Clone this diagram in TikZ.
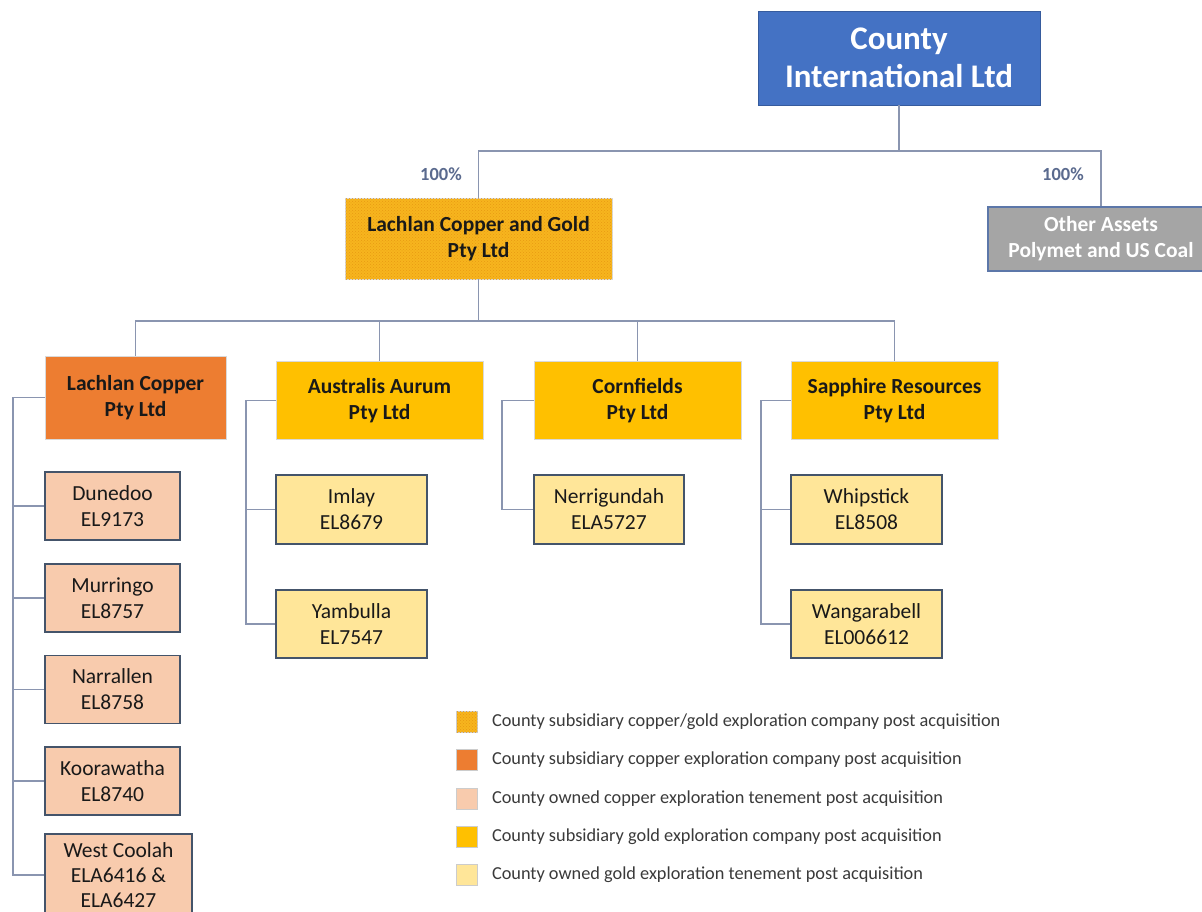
\documentclass[tikz,border=0pt]{standalone}
\usepackage{fontspec}
\setmainfont{Carlito}
\usetikzlibrary{positioning,patterns}

\definecolor{ciblue}{HTML}{4472C4}
\definecolor{cugold}{HTML}{F7B51E}
\definecolor{cugolddot}{HTML}{E89A12}
\definecolor{cuorange}{HTML}{ED7D31}
\definecolor{cupeach}{HTML}{F8CBAD}
\definecolor{augold}{HTML}{FFC000}
\definecolor{aulight}{HTML}{FFE699}
\definecolor{assetgray}{HTML}{A5A5A5}
\definecolor{linegray}{HTML}{8A95B0}
\definecolor{tenborder}{HTML}{44546A}
\definecolor{pctblue}{HTML}{5A6A8E}
\definecolor{legtextgray}{HTML}{3A3A3A}

\tikzset{
    conn/.style={draw=linegray, line width=1.8pt},
    boxbase/.style={rectangle, align=center, inner sep=0pt},
    company/.style={boxbase, draw=black!15, line width=0.6pt,
        font=\bfseries\fontsize{21.5}{26}\selectfont, text=black!90},
    tenement/.style={boxbase, draw=tenborder, line width=1.6pt,
        font=\fontsize{21.5}{26}\selectfont, text=black!90},
    pct/.style={font=\bfseries\fontsize{18.5}{20}\selectfont, text=pctblue},
    legsq/.style={rectangle, draw=black!20, line width=0.6pt, minimum size=21pt, inner sep=0pt},
    legtext/.style={font=\fontsize{18.3}{20}\selectfont, text=legtextgray, anchor=west, inner sep=0pt},
}

\begin{document}
\begin{tikzpicture}[x=1pt, y=-1pt]
    \useasboundingbox (0,0) rectangle (1202,911);
    \clip (0,0) rectangle (1202,911);
    \fill[white] (0,0) rectangle (1202,911);

    % top level
    \node[boxbase, fill=ciblue, draw=ciblue!80!black, line width=0.6pt, text=white,
        font=\bfseries\fontsize{33}{38}\selectfont,
        minimum width=282pt, minimum height=94pt] (county) at (899,58)
        {County\\International Ltd};

    \node[company, minimum width=267pt, minimum height=81pt, fill=cugold,
        postaction={pattern=crosshatch dots, pattern color=cugolddot}] (lcg) at (478.5,238.5)
        {Lachlan Copper and Gold\\Pty Ltd};
    \node[boxbase, fill=assetgray, draw=ciblue!60!gray, line width=1.6pt, text=white,
        font=\bfseries\fontsize{21.5}{26}\selectfont,
        minimum width=226pt, minimum height=64pt] (other) at (1101,239)
        {Other Assets\\Polymet and US Coal};

    \draw[conn] (county.south) -- ++(0,46) -| (lcg.north);
    \draw[conn] (county.south) -- ++(0,46) -| (other.north);
    \node[pct] (pctlcg) at (441,174) {100\%};
    \node[pct] (pctother) at (1063,174) {100\%};

    % subsidiaries
    \node[company, fill=cuorange, minimum width=181pt, minimum height=83pt] (lcop) at (135.5,397.5)
        {Lachlan Copper\\Pty Ltd};
    \node[company, fill=augold, minimum width=207pt, minimum height=78pt] (aaur) at (379.5,400.5)
        {Australis Aurum\\Pty Ltd};
    \node[company, fill=augold, minimum width=207pt, minimum height=78pt] (corn) at (637.5,400.5)
        {Cornfields\\Pty Ltd};
    \node[company, fill=augold, minimum width=207pt, minimum height=78pt] (sapp) at (894.5,400.5)
        {Sapphire Resources\\Pty Ltd};

    \foreach \sub in {lcop,aaur,corn,sapp}
        \draw[conn] (lcg.south) -- ++(0,42) -| (\sub.north);

    % copper tenements
    \node[tenement, fill=cupeach, minimum width=135pt, minimum height=68pt] (dune) at (112.5,506) {Dunedoo\\EL9173};
    \node[tenement, fill=cupeach, minimum width=135pt, minimum height=68pt] (murr) at (112.5,598) {Murringo\\EL8757};
    \node[tenement, fill=cupeach, minimum width=135pt, minimum height=68pt] (narr) at (112.5,689.5) {Narrallen\\EL8758};
    \node[tenement, fill=cupeach, minimum width=135pt, minimum height=68pt] (koor) at (112.5,781) {Koorawatha\\EL8740};
    \node[tenement, fill=cupeach, minimum width=147pt, minimum height=82pt,
        font=\fontsize{21.5}{25}\selectfont] (wcool) at (118.5,875)
        {West Coolah\\ELA6416 \&\\ELA6427};

    \foreach \ten in {dune,murr,narr,koor,wcool}
        \draw[conn] (lcop.west) -- ++(-32,0) |- (\ten.west);

    % gold tenements
    \node[tenement, fill=aulight, minimum width=151pt, minimum height=69pt] (imlay) at (351.5,509.5) {Imlay\\EL8679};
    \node[tenement, fill=aulight, minimum width=151pt, minimum height=68pt] (yamb) at (351.5,624) {Yambulla\\EL7547};
    \node[tenement, fill=aulight, minimum width=150pt, minimum height=69pt] (nerr) at (609,509.5) {Nerrigundah\\ELA5727};
    \node[tenement, fill=aulight, minimum width=151pt, minimum height=69pt] (whip) at (866.5,509.5) {Whipstick\\EL8508};
    \node[tenement, fill=aulight, minimum width=151pt, minimum height=68pt] (wang) at (866.5,624) {Wangarabell\\EL006612};

    \foreach \ten in {imlay,yamb}
        \draw[conn] (aaur.west) -- ++(-30,0) |- (\ten.west);
    \draw[conn] (corn.west) -- ++(-32,0) |- (nerr.west);
    \foreach \ten in {whip,wang}
        \draw[conn] (sapp.west) -- ++(-30,0) |- (\ten.west);

    % legend
    \node[legsq, fill=cugold, postaction={pattern=crosshatch dots, pattern color=cugolddot}] (leg1) at (467,722) {};
    \node[legsq, fill=cuorange] (leg2) at (467,760) {};
    \node[legsq, fill=cupeach] (leg3) at (467,799) {};
    \node[legsq, fill=augold] (leg4) at (467,837) {};
    \node[legsq, fill=aulight] (leg5) at (467,875) {};
    \node[legtext, right=14pt of leg1] (legt1) {County subsidiary copper/gold exploration company post acquisition};
    \node[legtext, right=14pt of leg2] (legt2) {County subsidiary copper exploration company post acquisition};
    \node[legtext, right=14pt of leg3] (legt3) {County owned copper exploration tenement post acquisition};
    \node[legtext, right=14pt of leg4] (legt4) {County subsidiary gold exploration company post acquisition};
    \node[legtext, right=14pt of leg5] (legt5) {County owned gold exploration tenement post acquisition};
\end{tikzpicture}
\end{document}
